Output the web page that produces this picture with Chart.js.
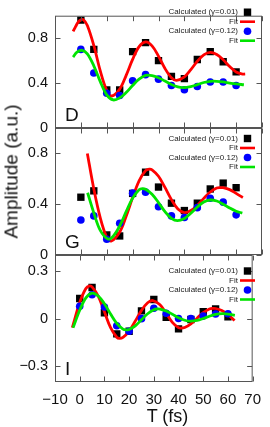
<!DOCTYPE html>
<html>
<head>
<meta charset="utf-8">
<script src="https://cdn.jsdelivr.net/npm/chart.js@4.4.1/dist/chart.umd.min.js"></script>
<style>
  html, body { margin: 0; padding: 0; background: #fff; }
  #wrap { position: relative; width: 270px; height: 427px; overflow: hidden; font-family: "Liberation Sans", Arial, sans-serif; color: #111; }
  #wrap canvas { position: absolute; left: 0; top: 0; }
  .ytitle { position: absolute; width: 220px; left: -99.5px; top: 161.5px; height: 19px; line-height: 19px; font-size: 19px; text-align: center; transform: rotate(-90deg); white-space: nowrap; }
  .xtitle { position: absolute; left: 117.5px; width: 100px; top: 407px; line-height: 18px; font-size: 18px; text-align: center; white-space: nowrap; }
</style>
</head>
<body>
<div id="wrap">
  <canvas id="panelD" width="270" height="427"></canvas>
  <canvas id="panelG" width="270" height="427"></canvas>
  <canvas id="panelI" width="270" height="427"></canvas>
  <div class="ytitle">Amplitude (a.u.)</div>
  <div class="xtitle">T (fs)</div>
</div>
<script>
// Tick values
const xTicks = [-10, 0, 10, 20, 30, 40, 50, 60, 70];
const dTicks = [0, 0.4, 0.8];
const gTicks = [0, 0.4, 0.8];
const iTicks = [-0.3, 0, 0.3];

const legendLabels = ['Calculated (\u03b3=0.01)', 'Fit', 'Calculated (\u03b3=0.12)', 'Fit'];

// Calculated points, shared time axis
const calcT = [0, 5, 10, 15, 20, 25, 30, 35, 40, 45, 50, 55, 60];

// Panel D
const dCalc001 = [0.96, 0.70, 0.34, 0.34, 0.68, 0.76, 0.60, 0.46, 0.44, 0.61, 0.68, 0.59, 0.50];
const dCalc012 = [0.70, 0.49, 0.31, 0.29, 0.42, 0.475, 0.435, 0.378, 0.34, 0.37, 0.41, 0.41, 0.378];
const dFitRedT = [-3, -2, -1, 0, 1, 2.5, 5, 7.5, 10, 12, 15, 17.5, 20, 22.5, 25, 27.5, 30, 32.5, 35, 37, 40, 42.5, 45, 47.5, 50, 52.5, 55, 57.5, 60, 62.5, 63.5];
const dFitRed = [0.86, 0.905, 0.944, 0.963, 0.964, 0.913, 0.735, 0.508, 0.334, 0.285, 0.346, 0.469, 0.611, 0.724, 0.766, 0.731, 0.64, 0.53, 0.448, 0.425, 0.456, 0.52, 0.594, 0.652, 0.674, 0.655, 0.607, 0.547, 0.499, 0.48, 0.482];
const dFitGreenT = [-3, -1.5, 0.5, 2.5, 5, 7.5, 10, 12.5, 15, 17.5, 20, 22.5, 25, 27.5, 30, 32.5, 35, 37.5, 39.5, 42.5, 45, 47.5, 50, 52.5, 55, 57.5, 60, 63];
const dFitGreen = [0.632, 0.675, 0.692, 0.66, 0.554, 0.413, 0.295, 0.25, 0.268, 0.316, 0.379, 0.435, 0.468, 0.467, 0.448, 0.418, 0.388, 0.366, 0.36, 0.369, 0.386, 0.405, 0.416, 0.416, 0.41, 0.40, 0.392, 0.385];

// Panel G
const gCalc001 = [0.455, 0.505, 0.158, 0.15, 0.485, 0.652, 0.535, 0.408, 0.35, 0.408, 0.52, 0.566, 0.53];
const gCalc012 = [0.276, 0.308, 0.124, 0.25, 0.487, 0.495, 0.38, 0.308, 0.295, 0.373, 0.447, 0.416, 0.316];
const gFitRedT = [2.5, 5, 7.5, 10, 11.8, 15, 17.5, 20, 22.5, 25, 26.4, 27.5, 30, 32.5, 35, 37.5, 40, 42.5, 45, 47.5, 50, 52.5, 53.8, 55, 57.5, 60, 62.6];
const gFitRed = [0.80, 0.52, 0.292, 0.139, 0.11, 0.181, 0.305, 0.452, 0.584, 0.664, 0.676, 0.671, 0.62, 0.532, 0.436, 0.362, 0.334, 0.35, 0.391, 0.446, 0.496, 0.527, 0.531, 0.53, 0.515, 0.485, 0.452];
const gFitGreenT = [2.6, 5, 7.5, 10.5, 12.5, 15, 17.5, 20, 22.5, 23.8, 25, 27.5, 30, 32.5, 35, 37.3, 40, 42.5, 45, 47.5, 50, 52.5, 55, 57.5, 60, 62.4];
const gFitGreen = [0.49, 0.332, 0.194, 0.126, 0.148, 0.228, 0.341, 0.448, 0.514, 0.523, 0.518, 0.479, 0.413, 0.341, 0.288, 0.27, 0.288, 0.329, 0.378, 0.418, 0.433, 0.425, 0.40, 0.37, 0.345, 0.33];

// Panel I
const iCalc001 = [0.126, 0.195, 0.036, -0.097, -0.08, 0.048, 0.12, 0.007, -0.065, -0.006, 0.043, 0.06, 0.01];
const iCalc012 = [0.077, 0.15, 0.072, -0.046, -0.08, -0.001, 0.065, 0.033, 0, 0, 0.015, 0.028, 0.03];
const iFitRedT = [-3, -2.5, 0, 2.5, 4, 5, 7.5, 10, 12.5, 15, 16.1, 17.5, 20, 22.5, 25, 27.5, 29.6, 32.5, 35, 37.5, 40, 41, 42.5, 45, 47.5, 50, 52.5, 54, 55, 57.5, 60, 62.7];
const iFitRed = [-0.058, -0.031, 0.101, 0.189, 0.205, 0.199, 0.141, 0.042, -0.058, -0.118, -0.125, -0.119, -0.079, -0.016, 0.051, 0.099, 0.113, 0.087, 0.033, -0.024, -0.058, -0.061, -0.057, -0.034, 0.002, 0.037, 0.06, 0.064, 0.063, 0.05, 0.025, -0.013];
const iFitGreenT = [-2.7, 0, 2.5, 5, 7.5, 10, 12.5, 15, 17.5, 18.8, 20, 22.5, 25, 27.5, 30, 31.5, 32.5, 35, 37.5, 40, 42.5, 44.8, 47.5, 50, 52.5, 55, 57.7, 60, 62.8];
const iFitGreen = [-0.058, 0.052, 0.13, 0.16, 0.142, 0.093, 0.028, -0.031, -0.067, -0.072, -0.069, -0.046, -0.008, 0.03, 0.055, 0.06, 0.059, 0.047, 0.027, 0.005, -0.011, -0.017, -0.012, 0, 0.014, 0.026, 0.031, 0.028, 0.019];

const FONT = '"Liberation Sans", Arial, sans-serif';

function pairs(ts, vs) {
  return ts.map((t, i) => ({ x: t, y: vs[i] }));
}

function fmt(v) {
  return v < 0 ? '\u2212' + Math.abs(v) : String(v);
}

// Frame with inward ticks, panel letter and the little legend
const panelFrame = {
  id: 'panelFrame',
  afterDatasetsDraw(chart, args, opts) {
    const { ctx, chartArea: a, scales } = chart;
    const L = a.left + 0.5, R = a.right - 0.5, T = a.top + 0.5, B = a.bottom - 0.5;
    ctx.save();
    ctx.strokeStyle = '#555';
    ctx.lineWidth = 1;
    ctx.strokeRect(L, T, R - L, B - T);
    ctx.beginPath();
    xTicks.forEach(v => {
      const px = Math.round(scales.x.getPixelForValue(v)) + 0.5;
      ctx.moveTo(px, T); ctx.lineTo(px, T + 5);
      ctx.moveTo(px, B); ctx.lineTo(px, B - 5);
    });
    scales.y.ticks.forEach(t => {
      const py = Math.round(scales.y.getPixelForValue(t.value)) + 0.5;
      ctx.moveTo(L, py); ctx.lineTo(L + 5, py);
      ctx.moveTo(R, py); ctx.lineTo(R - 5, py);
    });
    ctx.stroke();

    // panel letter
    ctx.fillStyle = '#111';
    ctx.font = '19px ' + FONT;
    ctx.textAlign = 'left';
    ctx.textBaseline = 'alphabetic';
    ctx.fillText(opts.letter, a.left + 10, a.bottom - 7.5);

    // legend
    ctx.font = '8px ' + FONT;
    ctx.textAlign = 'right';
    ctx.textBaseline = 'middle';
    chart.data.datasets.forEach((ds, i) => {
      const y = opts.legendY + i * 9.5;
      ctx.fillStyle = '#222';
      ctx.fillText(ds.label, 238, y);
      if (ds.showLine) {
        ctx.strokeStyle = ds.borderColor;
        ctx.lineWidth = 2.6;
        ctx.beginPath();
        ctx.moveTo(240, y); ctx.lineTo(255, y);
        ctx.stroke();
      } else if (ds.pointStyle === 'rect') {
        ctx.fillStyle = ds.backgroundColor;
        ctx.fillRect(247.5 - 3.7, y - 3.7, 7.4, 7.4);
      } else {
        ctx.fillStyle = ds.backgroundColor;
        ctx.beginPath();
        ctx.arc(247.5, y, 3.8, 0, Math.PI * 2);
        ctx.fill();
      }
    });
    ctx.restore();
  }
};

function makePanel(id, cfg) {
  return new Chart(document.getElementById(id), {
    type: 'scatter',
    data: {
      datasets: [
        { label: legendLabels[0], data: pairs(calcT, cfg.sq), pointStyle: 'rect', pointRadius: 5.2, backgroundColor: '#000', borderWidth: 0, order: 4 },
        { label: legendLabels[1], data: pairs(cfg.redT, cfg.red), showLine: true, borderColor: '#ff0000', borderWidth: 2.8, pointRadius: 0, tension: 0.35, order: 3 },
        { label: legendLabels[2], data: pairs(calcT, cfg.circ), pointStyle: 'circle', pointRadius: 3.8, backgroundColor: '#0000ff', borderWidth: 0, order: 2 },
        { label: legendLabels[3], data: pairs(cfg.greenT, cfg.green), showLine: true, borderColor: '#00e400', borderWidth: 2.8, pointRadius: 0, tension: 0.35, order: 1 }
      ]
    },
    options: {
      responsive: false,
      animation: false,
      events: [],
      layout: { padding: { left: 0, right: 8, top: cfg.top, bottom: cfg.bottom } },
      plugins: {
        legend: { display: false },
        tooltip: { enabled: false },
        panelFrame: { letter: cfg.letter, legendY: cfg.legendY }
      },
      scales: {
        x: {
          type: 'linear', min: -10, max: 70,
          display: cfg.showX,
          afterBuildTicks: s => { s.ticks = xTicks.map(v => ({ value: v })); },
          afterFit: cfg.showX ? s => { s.height = 45; } : undefined,
          grid: { display: false, drawTicks: false },
          border: { display: false },
          ticks: { padding: 9, autoSkip: false, maxRotation: 0, color: '#111', font: { family: FONT, size: 15 }, callback: fmt }
        },
        y: {
          type: 'linear', min: cfg.yMin, max: cfg.yMax,
          afterBuildTicks: s => { s.ticks = cfg.ticks.map(v => ({ value: v })); },
          afterFit: s => { s.width = 55; },
          grid: { display: false, drawTicks: false },
          border: { display: false },
          ticks: { padding: 7, color: '#111', font: { family: FONT, size: 14.5 }, callback: fmt }
        }
      }
    },
    plugins: [panelFrame]
  });
}

makePanel('panelD', { letter: 'D', sq: dCalc001, circ: dCalc012, redT: dFitRedT, red: dFitRed, greenT: dFitGreenT, green: dFitGreen,
  ticks: dTicks, yMin: 0, yMax: 1, top: 1, bottom: 299, showX: false, legendY: 12.2 });
makePanel('panelG', { letter: 'G', sq: gCalc001, circ: gCalc012, redT: gFitRedT, red: gFitRed, greenT: gFitGreenT, green: gFitGreen,
  ticks: gTicks, yMin: 0, yMax: 1, top: 128, bottom: 172, showX: false, legendY: 138.5 });
makePanel('panelI', { letter: 'I', sq: iCalc001, circ: iCalc012, redT: iFitRedT, red: iFitRed, greenT: iFitGreenT, green: iFitGreen,
  ticks: iTicks, yMin: -0.4, yMax: 0.4, top: 255, bottom: 0, showX: true, legendY: 271 });
</script>
</body>
</html>
